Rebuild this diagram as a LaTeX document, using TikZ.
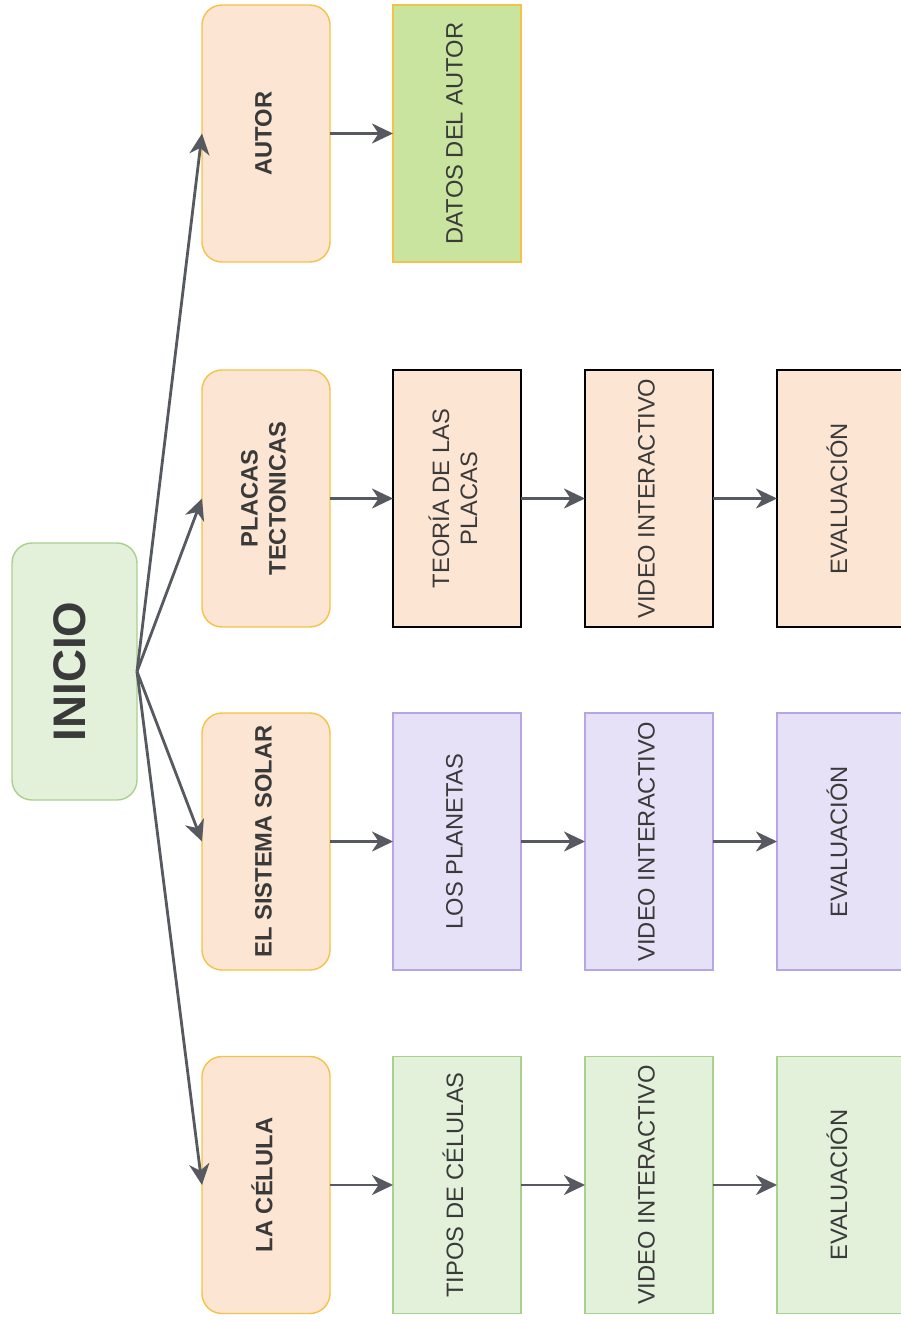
\documentclass[tikz,border=0pt]{standalone}
\usepackage{fontspec}
\setmainfont{Liberation Sans}
\usepackage{xcolor}
\usepackage{tikz}
\usetikzlibrary{positioning, arrows.meta}

\definecolor{peach}{HTML}{FCE6D3}
\definecolor{gold}{HTML}{F4C247}
\definecolor{mint}{HTML}{E3F0DA}
\definecolor{mintline}{HTML}{A9D18E}
\definecolor{lime}{HTML}{C8E49E}
\definecolor{lilac}{HTML}{E7E1F8}
\definecolor{lilacline}{HTML}{B7A5E6}
\definecolor{ink}{HTML}{3A3A3A}
\definecolor{arrowgray}{HTML}{565A60}

\newcommand{\vtext}[1]{\rotatebox{90}{\begin{tabular}{@{}c@{}}#1\end{tabular}}}

\begin{document}
\begin{tikzpicture}[
    node distance=1.28cm,
    card/.style={rectangle, draw, line width=0.8pt, outer sep=0pt, minimum width=2.56cm, minimum height=5.14cm, inner sep=0pt, text=ink, font=\fontsize{13.5}{16}\selectfont},
    topic/.style={card, rounded corners=0.4cm, fill=peach, draw=gold, font=\fontsize{13.5}{16}\selectfont\bfseries},
    start/.style={card, rounded corners=0.4cm, fill=mint, draw=mintline, minimum width=2.5cm, font=\fontsize{26}{30}\selectfont\bfseries},
    authorbox/.style={card, fill=lime, draw=gold},
    platebox/.style={card, fill=peach, draw=black},
    planetbox/.style={card, fill=lilac, draw=lilacline},
    cellbox/.style={card, fill=mint, draw=mintline},
    link/.style={-{Stealth[length=4.2mm, width=4mm, inset=1.3mm]}, line width=1.6pt, draw=arrowgray}
]
\useasboundingbox (0,0) rectangle (18.02,-26.42);

% Start node
\node[start] (inicio) at (1.49,-13.43) {\vtext{INICIO}};

% Topics
\node[topic] (autor) at (5.32,-2.67) {\vtext{AUTOR}};
\node[topic] (placas) at (5.32,-9.97) {\vtext{PLACAS\\TECTONICAS}};
\node[topic] (solar) at (5.32,-16.83) {\vtext{EL SISTEMA SOLAR}};
\node[topic] (celula) at (5.32,-23.70) {\vtext{LA CÉLULA}};

% Author row
\node[authorbox, right=1.26cm of autor] (datos) {\vtext{DATOS DEL AUTOR}};

% Plates row
\node[platebox, right=1.26cm of placas] (teoria) {\vtext{TEORÍA DE LAS\\PLACAS}};
\node[platebox, right=of teoria] (video1) {\vtext{VIDEO INTERACTIVO}};
\node[platebox, right=of video1] (eval1) {\vtext{EVALUACIÓN}};

% Solar system row
\node[planetbox, right=1.26cm of solar] (planetas) {\vtext{LOS PLANETAS}};
\node[planetbox, right=of planetas] (video2) {\vtext{VIDEO INTERACTIVO}};
\node[planetbox, right=of video2] (eval2) {\vtext{EVALUACIÓN}};

% Cell row
\node[cellbox, right=1.26cm of celula] (tipos) {\vtext{TIPOS DE CÉLULAS}};
\node[cellbox, right=of tipos] (video3) {\vtext{VIDEO INTERACTIVO}};
\node[cellbox, right=of video3] (eval3) {\vtext{EVALUACIÓN}};

% Edges
\draw[link] (inicio.east) -- (autor.west);
\draw[link] (inicio.east) -- (placas.west);
\draw[link] (inicio.east) -- (solar.west);
\draw[link] (inicio.east) -- (celula.west);

\draw[link] (autor) -- (datos);
\draw[link] (placas) -- (teoria);
\draw[link] (teoria) -- (video1);
\draw[link] (video1) -- (eval1);
\draw[link] (solar) -- (planetas);
\draw[link] (planetas) -- (video2);
\draw[link] (video2) -- (eval2);
\draw[link] (celula) -- (tipos);
\draw[link] (tipos) -- (video3);
\draw[link] (video3) -- (eval3);

\end{tikzpicture}
\end{document}
